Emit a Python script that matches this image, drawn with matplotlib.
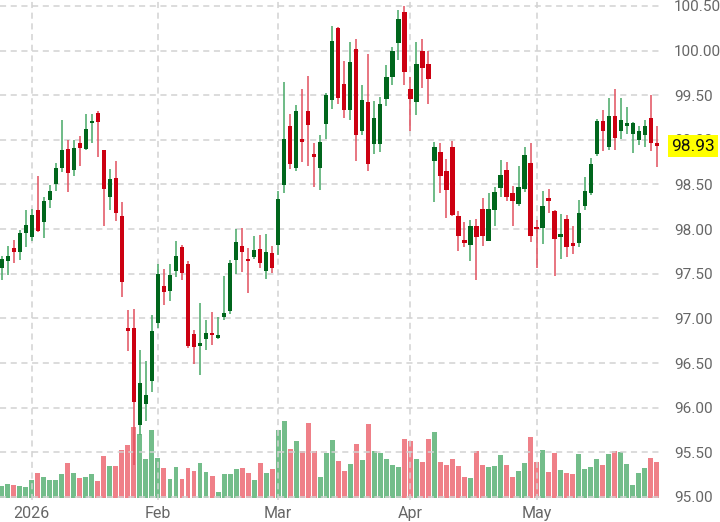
import numpy as np
import pandas as pd
import matplotlib
matplotlib.use("Agg")
import matplotlib.pyplot as plt

plt.rcParams['font.family'] = ['Roboto', 'DejaVu Sans']

# ---------------- data ----------------
holidays = ['2025-12-25', '2026-01-01', '2026-04-03']
dates = pd.bdate_range('2025-12-24', '2026-05-29', freq='C', holidays=holidays)

opens = [97.56, 97.64, 97.79, 97.74, 97.96, 97.91, 98.21, 98.08, 98.33, 98.50,
         98.69, 98.90, 98.66, 98.97, 98.90, 99.19, 99.30, 98.89, 98.36, 98.57,
         98.15, 96.89, 96.89, 95.81, 96.04, 96.30, 96.95, 97.36, 97.31, 97.53,
         97.80, 97.61, 96.83, 96.69, 96.77, 96.84, 96.78, 97.02, 97.08, 97.65,
         97.81, 97.67, 97.69, 97.78, 97.53, 97.73, 97.82, 98.49, 99.15, 98.69,
         99.01, 99.32, 98.84, 98.69, 99.18, 99.45, 100.25, 99.63, 99.33, 100.02,
         99.10, 99.42, 98.95, 98.95, 99.46, 99.70, 100.09, 100.43, 99.57, 99.42,
         99.99, 99.85, 98.76, 98.86, 98.65, 98.92, 98.15, 97.88, 97.82, 98.04,
         98.23, 97.87, 98.21, 98.46, 98.66, 98.40, 98.28, 98.45, 98.74, 98.02,
         98.01, 98.35, 98.20, 97.91, 98.11, 97.85, 97.84, 98.26, 98.40, 98.84,
         99.21, 98.92, 99.27, 99.10, 99.16, 99.07, 99.00, 99.05, 99.25, 98.96]

closes = [97.67, 97.70, 97.74, 97.96, 98.05, 98.16, 97.98, 98.32, 98.43, 98.68,
          98.89, 98.63, 98.91, 98.91, 99.12, 99.21, 99.20, 98.45, 98.56, 98.18,
          97.41, 96.86, 96.06, 96.28, 96.14, 96.86, 97.50, 97.30, 97.49, 97.70,
          97.51, 96.69, 96.68, 96.73, 96.84, 96.81, 96.81, 97.06, 97.62, 97.86,
          97.74, 97.64, 97.77, 97.62, 97.74, 97.57, 98.34, 99.01, 98.73, 99.32,
          98.98, 99.17, 98.81, 98.98, 99.50, 100.11, 99.47, 99.33, 99.87, 99.05,
          99.45, 98.73, 99.24, 99.40, 99.70, 99.99, 100.35, 99.76, 99.46, 99.85,
          99.81, 99.68, 98.92, 98.59, 98.44, 98.16, 97.92, 97.85, 98.03, 97.91,
          97.92, 98.23, 98.42, 98.61, 98.36, 98.32, 98.47, 98.83, 97.92, 98.00,
          98.26, 98.32, 97.89, 97.95, 97.80, 97.81, 98.18, 98.43, 98.73, 99.21,
          99.10, 99.27, 99.02, 99.22, 99.19, 99.19, 99.10, 99.15, 98.97, 98.93]

highs = [97.70, 97.81, 97.88, 97.99, 98.21, 98.23, 98.60, 98.36, 98.49, 98.74,
         99.22, 99.00, 99.00, 99.04, 99.29, 99.29, 99.32, 98.89, 98.67, 98.76,
         98.30, 97.09, 97.11, 96.65, 96.52, 97.04, 97.61, 97.55, 97.61, 97.87,
         97.82, 97.64, 96.87, 97.17, 96.98, 97.07, 97.02, 97.47, 97.65, 98.00,
         98.01, 97.79, 97.92, 97.93, 97.95, 97.81, 98.43, 99.65, 99.29, 99.39,
         99.57, 99.71, 98.97, 99.05, 99.53, 100.27, 100.26, 99.88, 100.10, 100.13,
         99.61, 99.96, 99.44, 99.48, 99.84, 100.04, 100.45, 100.50, 99.70, 100.10,
         100.13, 99.99, 98.98, 98.97, 98.79, 98.99, 98.20, 98.08, 98.10, 98.11,
         98.35, 98.40, 98.47, 98.77, 98.75, 98.48, 98.71, 98.92, 98.97, 98.10,
         98.43, 98.45, 98.21, 98.17, 98.16, 98.04, 98.33, 98.58, 98.80, 99.23,
         99.33, 99.47, 99.57, 99.47, 99.37, 99.20, 99.15, 99.22, 99.50, 99.15]

lows = [97.43, 97.49, 97.62, 97.65, 97.80, 97.87, 97.97, 97.90, 98.24, 98.43,
        98.64, 98.42, 98.60, 98.71, 98.89, 98.97, 98.81, 98.03, 98.21, 98.09,
        97.24, 96.63, 95.36, 95.69, 95.85, 96.18, 96.89, 97.15, 97.19, 97.46,
        97.43, 96.67, 96.49, 96.37, 96.65, 96.70, 96.77, 96.98, 97.05, 97.50,
        97.52, 97.28, 97.67, 97.56, 97.44, 97.51, 97.71, 98.41, 98.67, 98.65,
        98.75, 98.71, 98.47, 98.44, 99.01, 99.35, 99.40, 99.25, 99.22, 98.76,
        99.05, 98.65, 98.84, 98.86, 99.38, 99.61, 99.89, 99.61, 99.10, 99.28,
        99.58, 99.40, 98.30, 98.41, 98.13, 98.15, 97.76, 97.80, 97.64, 97.43,
        97.81, 97.87, 98.03, 98.36, 98.32, 98.04, 98.26, 98.42, 97.86, 97.57,
        97.83, 98.18, 97.48, 97.67, 97.69, 97.72, 97.80, 98.21, 98.38, 98.82,
        98.87, 98.89, 98.89, 99.01, 99.06, 98.85, 98.94, 98.92, 98.87, 98.70]

volumes = [12.3, 14.3, 13.3, 12.3, 11.3, 18.3, 25.7, 21.3, 18.3, 18.3,
           24.3, 35.3, 25.3, 20.3, 21.3, 24.3, 17.3, 42.3, 32.3, 32.3,
           48.3, 53.7, 71.7, 64.3, 39.3, 68.3, 40.3, 30.3, 19.3, 31.3,
           19.3, 30.3, 27.3, 35.3, 26.3, 22.3, 6.3, 24.3, 24.3, 29.3,
           30.3, 25.3, 18.3, 35.3, 25.3, 29.3, 68.3, 77.3, 49.3, 57.3,
           47.3, 75.3, 47.3, 21.3, 45.3, 58.3, 37.3, 27.3, 34.0, 54.0,
           38.7, 74.7, 47.7, 45.7, 39.7, 33.7, 31.7, 59.7, 57.7, 39.7,
           36.7, 59.7, 66.7, 36.7, 33.7, 39.7, 32.7, 21.7, 20.7, 47.7,
           33.7, 31.7, 32.7, 43.7, 33.7, 21.7, 27.7, 35.7, 61.7, 36.7,
           48.7, 26.7, 45.7, 28.7, 25.7, 24.7, 44.7, 29.7, 31.7, 39.7,
           33.7, 44.7, 47.7, 46.7, 34.7, 13.7, 25.7, 30.7, 40.7, 36.7]

y_ticks = np.arange(95.0, 100.51, 0.5)

# ---------------- styling ----------------
UP_BODY, DN_BODY = '#00661c', '#cc0011'
UP_WICK, DN_WICK = '#46a866', '#e2505e'
UP_VOL, DN_VOL = '#73bd8a', '#ef8088'
GRID = '#d2d2d2'
TXT = '#666666'

o = np.array(opens); c = np.array(closes)
h = np.array(highs); l = np.array(lows)
v = np.array(volumes)
x = np.arange(len(dates))
up = c >= o

fig = plt.figure(figsize=(7.2, 5.22), dpi=100)
ax = fig.add_axes([0.0, 1 - 500/522, 663/720, 500/522])
axv = ax.twinx()
ax.set_zorder(axv.get_zorder() + 1)
ax.patch.set_visible(False)

# volume
axv.bar(x, v, width=0.82, color=np.where(up, UP_VOL, DN_VOL), linewidth=0)
vtop = v.max() * 6.45
axv.set_ylim(-0.0035 * vtop, vtop)
axv.set_yticks([])
for s in axv.spines.values():
    s.set_visible(False)

# candles
ax.vlines(x, l, h, colors=np.where(up, UP_WICK, DN_WICK), linewidth=1.1, zorder=3)
body_bot = np.minimum(o, c)
body_h = np.maximum(np.abs(c - o), 0.025)
ax.bar(x, body_h, bottom=body_bot, width=0.72,
       color=np.where(up, UP_BODY, DN_BODY), linewidth=0, zorder=4)

ax.set_xlim(-0.28, 110.03)
ax.set_ylim(94.966, 100.566)

# axes ticks
ax.yaxis.tick_right()
ax.set_yticks(y_ticks)
ax.set_yticklabels([f"{t:.2f}" for t in y_ticks])
month_idx = []
month_lab = []
prev = None
for i, d in enumerate(dates):
    key = (d.year, d.month)
    if prev is not None and key != prev:
        month_idx.append(i)
        month_lab.append(str(d.year) if d.month == 1 else d.strftime('%b'))
    prev = key
ax.set_xticks(month_idx)
ax.set_xticklabels(month_lab)
ax.tick_params(axis='both', length=0, labelcolor=TXT)
ax.tick_params(axis='y', pad=8, labelsize=11)
ax.tick_params(axis='x', pad=4, labelsize=11.5)
for s in ax.spines.values():
    s.set_visible(False)
ax.grid(True, color=GRID, linestyle=(0, (4, 3)), linewidth=1.1, zorder=0)
ax.set_axisbelow(True)

# last price label
ax.annotate(f"{closes[-1]:.2f}", xy=(1.0, closes[-1]), xycoords=('axes fraction', 'data'),
            xytext=(8, 0), textcoords='offset pixels', ha='left', va='center',
            fontsize=12.5, color='#111111', annotation_clip=False, zorder=10,
            bbox=dict(boxstyle='square,pad=0.2', fc='#ffff00', ec='none'))

fig.savefig('out.png', dpi=100)
